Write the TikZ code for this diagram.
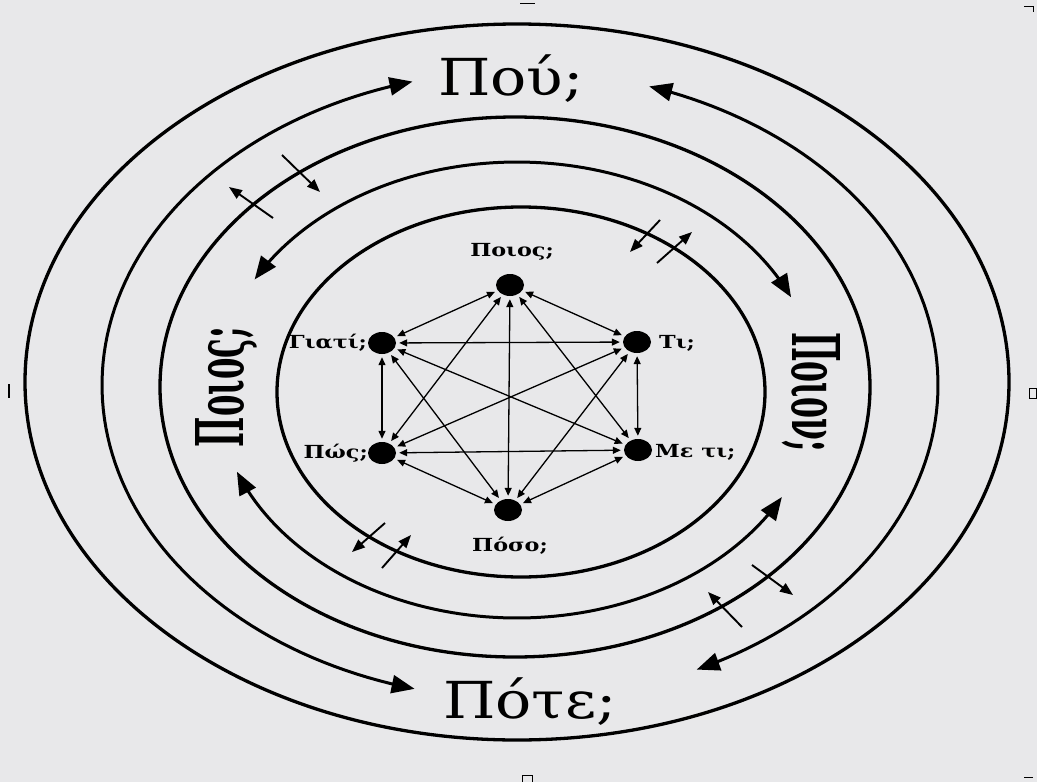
\documentclass[tikz,border=0pt]{standalone}
\usepackage{fontspec}
\setmainfont{DejaVu Serif}
\usetikzlibrary{arrows.meta,shapes.geometric}
\definecolor{bg}{RGB}{232,232,234}
\newcommand{\bigtxt}[1]{\scalebox{1.18}[1]{\fontsize{51}{51}\selectfont #1}}
\newcommand{\smalltxt}[1]{\scalebox{1.24}[1]{\fontsize{18}{18}\selectfont\bfseries #1}}
\newcommand{\sidetxt}[1]{\resizebox{120pt}{48pt}{\bfseries #1}}
\begin{document}
\begin{tikzpicture}[x=1pt,y=-1pt,
  ring/.style={line width=3.3pt},
  arcarrow/.style={line width=3pt,{Triangle[length=23pt,width=18pt]}-{Triangle[length=23pt,width=18pt]}},
  crossarrow/.style={line width=1.9pt,-{Triangle[length=13pt,width=10pt]}},
  dot/.style={ellipse,fill=black,minimum width=28pt,minimum height=22pt,inner sep=0pt},
  edge/.style={line width=1.3pt,{Triangle[length=8pt,width=7pt]}-{Triangle[length=8pt,width=7pt]},shorten <=3pt,shorten >=3pt},
  lbl/.style={inner sep=0pt},
  scanmark/.style={line width=1pt}]
\useasboundingbox (0,0) rectangle (1037,782);
\fill[bg] (0,0) rectangle (1037,782);
% scan marks
\draw[scanmark] (520,3) -- (535,3);
\draw[scanmark,line width=2.5pt] (9,384) -- (9,398);
\draw[scanmark] (1029,388) rectangle (1036,398);
\draw[scanmark] (522,775) rectangle (532,782);
\draw[scanmark] (1024,6) -- (1033,6) -- (1033,12);
\draw[scanmark] (1024,777) -- (1033,777);
% closed ellipses
\draw[ring] (517,382) ellipse [x radius=492pt, y radius=358pt];
\draw[ring] (515,387) ellipse [x radius=355pt, y radius=270pt];
\draw[ring] (521,392) ellipse [x radius=244pt, y radius=185pt];
% outer double arcs (Pou <-> Pote)
\draw[arcarrow] plot[domain=104.6:255.1,samples=90,variable=\t] ({520+418*cos(\t)},{385+314*sin(\t)});
\draw[arcarrow] plot[domain=65:-72,samples=90,variable=\t] ({520+418*cos(\t)},{385+314*sin(\t)});
% inner double arcs (Poios <-> Poion)
\draw[arcarrow] plot[domain=209:336,samples=80,variable=\t] ({517+300*cos(\t)},{390+228*sin(\t)});
\draw[arcarrow] plot[domain=159:28,samples=80,variable=\t] ({517+300*cos(\t)},{390+228*sin(\t)});
% crossing arrows
\coordinate (c1a) at (273,218); \coordinate (c1b) at (229,187);
\coordinate (c2a) at (282,155); \coordinate (c2b) at (320,192);
\coordinate (c3a) at (660,220); \coordinate (c3b) at (630,252);
\coordinate (c4a) at (657,263); \coordinate (c4b) at (692,232);
\coordinate (c5a) at (385,523); \coordinate (c5b) at (352,552);
\coordinate (c6a) at (382,568); \coordinate (c6b) at (411,535);
\coordinate (c7a) at (742,627); \coordinate (c7b) at (708,592);
\coordinate (c8a) at (752,565); \coordinate (c8b) at (793,595);
\foreach \p in {1,...,8}{\draw[crossarrow] (c\p a) -- (c\p b);}
% big labels
\node[lbl,anchor=base] (pou) at (511,95) {\bigtxt{Πού;}};
\node[lbl,anchor=base] (pote) at (530,718) {\bigtxt{Πότε;}};
\node[lbl,anchor=base,rotate=90] (poioss) at (243,387) {\sidetxt{Ποιος;}};
\node[lbl,anchor=base,rotate=-90] (poionn) at (792,392) {\sidetxt{Ποιον;}};
% graph
\node[dot] (poios) at (510,285) {};
\node[dot] (giati) at (382,343) {};
\node[dot] (ti) at (637,342) {};
\node[dot] (pos) at (382,453) {};
\node[dot] (meti) at (638,450) {};
\node[dot] (poso) at (508,510) {};
\foreach \a/\b in {poios/giati,poios/ti,poios/poso,poios/pos,poios/meti,giati/ti,giati/pos,giati/meti,giati/poso,ti/meti,ti/pos,ti/poso,pos/meti,pos/poso,meti/poso}
  \draw[edge] (\a) -- (\b);
\node[lbl] (lpoios) at (512,252) {\smalltxt{Ποιος;}};
\node[lbl,anchor=east] (lgiati) at (367,343) {\smalltxt{Γιατί;}};
\node[lbl,anchor=west] (lti) at (659,343) {\smalltxt{Τι;}};
\node[lbl,anchor=east] (lpos) at (368,453) {\smalltxt{Πώς;}};
\node[lbl,anchor=west] (lmeti) at (655,452) {\smalltxt{Με τι;}};
\node[lbl] (lposo) at (510,546) {\smalltxt{Πόσο;}};
\end{tikzpicture}
\end{document}
